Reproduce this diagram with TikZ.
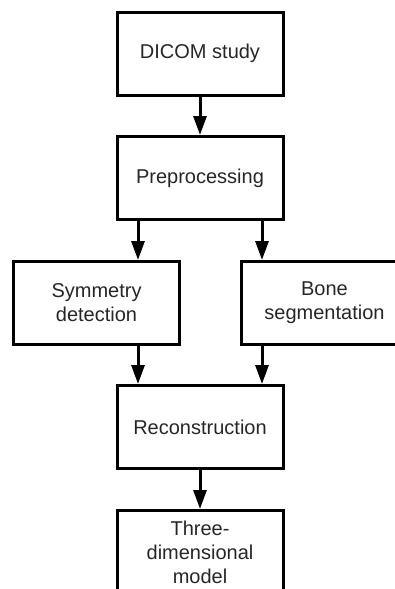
\documentclass[tikz,border=0pt]{standalone}
\usepackage{fontspec}
\setmainfont{Liberation Sans}
\usetikzlibrary{arrows.meta}

\begin{document}
\begin{tikzpicture}[x=1pt, y=-1pt, line width=3pt,
    main/.style = {draw, rectangle, minimum width=166pt, minimum height=83pt,
                   align=center, inner sep=2pt, text=black!85,
                   font=\fontsize{20}{24}\selectfont},
    arr/.style = {-{Triangle[length=19pt, width=13pt]}}]
    \useasboundingbox (0,0) rectangle (395,589);
    \clip (0,0) rectangle (395,589);

    \node[main] (1) at (200,53.5) {DICOM study};
    \node[main] (2) at (200,178) {Preprocessing};
    \node[main] (3) at (96.5,303) {Symmetry\\detection};
    \node[main] (4) at (324.5,303) {Bone\\segmentation};
    \node[main] (5) at (200,427) {Reconstruction};
    \node[main] (6) at (200,552) {Three-\\dimensional\\model};

\draw[arr] (1) -- (2);
\draw[arr] ([xshift=-62pt]2.south) -- ([xshift=-62pt]2.south |- 3.north);
\draw[arr] ([xshift=62pt]2.south) -- ([xshift=62pt]2.south |- 4.north);
\draw[arr] ([xshift=-62pt]5.north |- 3.south) -- ([xshift=-62pt]5.north);
\draw[arr] ([xshift=62pt]5.north |- 4.south) -- ([xshift=62pt]5.north);
\draw[arr] (5) -- (6);

\end{tikzpicture}
\end{document}
